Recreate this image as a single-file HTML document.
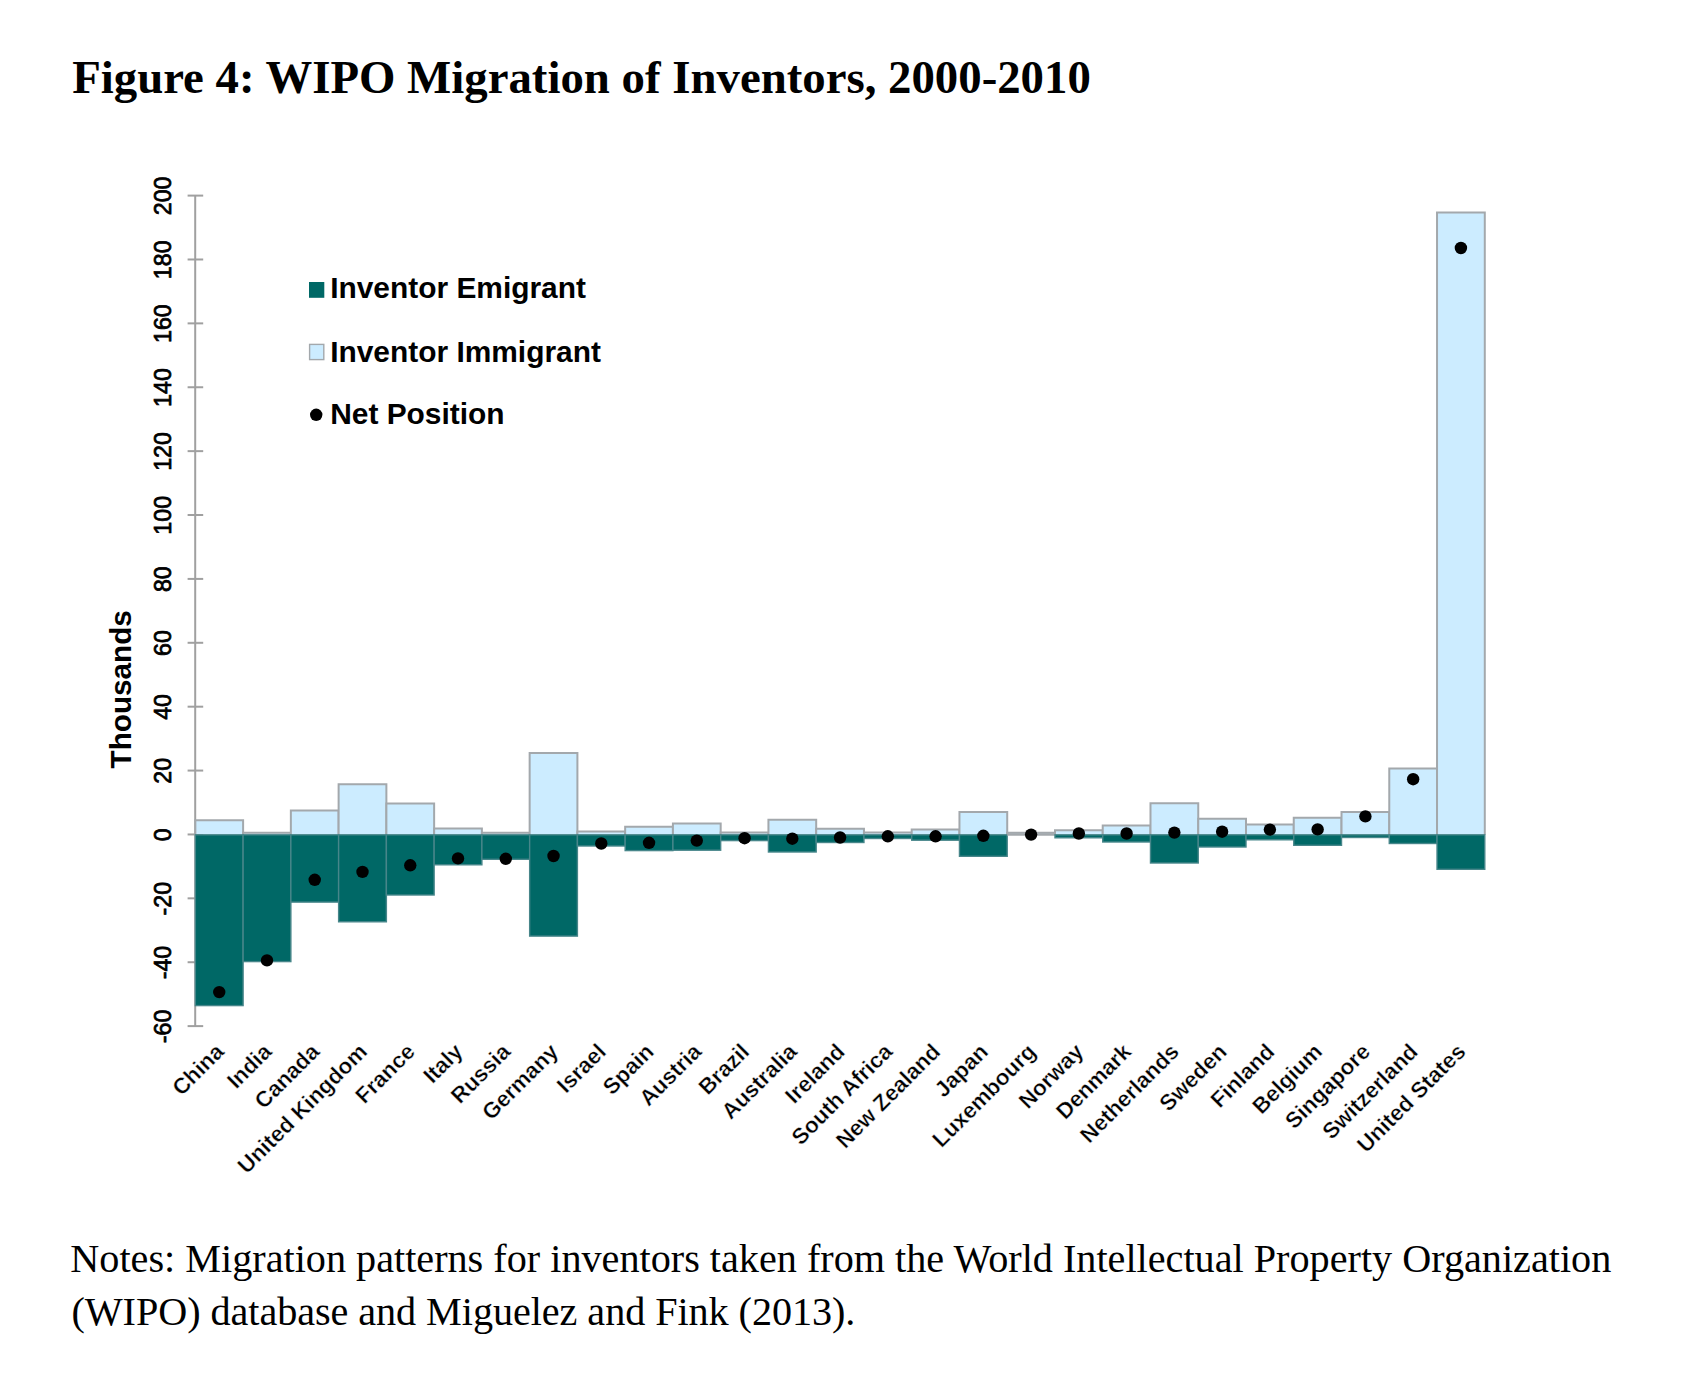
<!DOCTYPE html>
<html><head><meta charset="utf-8">
<style>
html,body{margin:0;padding:0;background:#fff;}
body{width:1683px;height:1398px;overflow:hidden;position:relative;}
svg{position:absolute;left:0;top:0;}
.title{font-family:"Liberation Serif",serif;font-weight:bold;font-size:46.8px;fill:#000;}
.notes{font-family:"Liberation Serif",serif;font-size:40.2px;fill:#000;}
.leg{font-family:"Liberation Sans",sans-serif;font-weight:bold;font-size:29.9px;fill:#000;}
.tick{font-family:"Liberation Sans",sans-serif;font-size:23.2px;fill:#000;stroke:#000;stroke-width:0.75px;}
.xl{font-family:"Liberation Sans",sans-serif;font-weight:bold;font-size:22.3px;fill:#000;stroke:#fff;stroke-width:0.35px;}
</style></head><body>
<svg width="1683" height="1398" viewBox="0 0 1683 1398">
<text x="72.2" y="92.9" class="title">Figure 4: WIPO Migration of Inventors, 2000-2010</text>
<line x1="195.2" y1="195.6" x2="195.2" y2="1026.1" stroke="#A0A0A0" stroke-width="2"/>
<line x1="187.6" y1="195.60" x2="203.2" y2="195.60" stroke="#A0A0A0" stroke-width="2"/>
<text transform="translate(170.9,195.90) rotate(-90)" text-anchor="middle" class="tick">200</text>
<line x1="187.6" y1="259.49" x2="203.2" y2="259.49" stroke="#A0A0A0" stroke-width="2"/>
<text transform="translate(170.9,259.79) rotate(-90)" text-anchor="middle" class="tick">180</text>
<line x1="187.6" y1="323.37" x2="203.2" y2="323.37" stroke="#A0A0A0" stroke-width="2"/>
<text transform="translate(170.9,323.67) rotate(-90)" text-anchor="middle" class="tick">160</text>
<line x1="187.6" y1="387.25" x2="203.2" y2="387.25" stroke="#A0A0A0" stroke-width="2"/>
<text transform="translate(170.9,387.56) rotate(-90)" text-anchor="middle" class="tick">140</text>
<line x1="187.6" y1="451.14" x2="203.2" y2="451.14" stroke="#A0A0A0" stroke-width="2"/>
<text transform="translate(170.9,451.44) rotate(-90)" text-anchor="middle" class="tick">120</text>
<line x1="187.6" y1="515.02" x2="203.2" y2="515.02" stroke="#A0A0A0" stroke-width="2"/>
<text transform="translate(170.9,515.32) rotate(-90)" text-anchor="middle" class="tick">100</text>
<line x1="187.6" y1="578.91" x2="203.2" y2="578.91" stroke="#A0A0A0" stroke-width="2"/>
<text transform="translate(170.9,579.21) rotate(-90)" text-anchor="middle" class="tick">80</text>
<line x1="187.6" y1="642.79" x2="203.2" y2="642.79" stroke="#A0A0A0" stroke-width="2"/>
<text transform="translate(170.9,643.09) rotate(-90)" text-anchor="middle" class="tick">60</text>
<line x1="187.6" y1="706.68" x2="203.2" y2="706.68" stroke="#A0A0A0" stroke-width="2"/>
<text transform="translate(170.9,706.98) rotate(-90)" text-anchor="middle" class="tick">40</text>
<line x1="187.6" y1="770.57" x2="203.2" y2="770.57" stroke="#A0A0A0" stroke-width="2"/>
<text transform="translate(170.9,770.87) rotate(-90)" text-anchor="middle" class="tick">20</text>
<line x1="187.6" y1="834.45" x2="203.2" y2="834.45" stroke="#A0A0A0" stroke-width="2"/>
<text transform="translate(170.9,834.75) rotate(-90)" text-anchor="middle" class="tick">0</text>
<line x1="187.6" y1="898.34" x2="203.2" y2="898.34" stroke="#A0A0A0" stroke-width="2"/>
<text transform="translate(170.9,898.63) rotate(-90)" text-anchor="middle" class="tick">-20</text>
<line x1="187.6" y1="962.22" x2="203.2" y2="962.22" stroke="#A0A0A0" stroke-width="2"/>
<text transform="translate(170.9,962.52) rotate(-90)" text-anchor="middle" class="tick">-40</text>
<line x1="187.6" y1="1026.11" x2="203.2" y2="1026.11" stroke="#A0A0A0" stroke-width="2"/>
<text transform="translate(170.9,1026.40) rotate(-90)" text-anchor="middle" class="tick">-60</text>
<rect x="195.35" y="820.30" width="47.76" height="13.90" fill="#CCECFF"/>
<path d="M195.35,834.80 V820.30 H243.11 V834.80" fill="none" stroke="#A3A8AC" stroke-width="2"/>
<rect x="243.11" y="832.70" width="47.76" height="1.50" fill="#CCECFF"/>
<path d="M243.11,834.80 V832.70 H290.86 V834.80" fill="none" stroke="#A3A8AC" stroke-width="2"/>
<rect x="290.86" y="810.40" width="47.76" height="23.80" fill="#CCECFF"/>
<path d="M290.86,834.80 V810.40 H338.62 V834.80" fill="none" stroke="#A3A8AC" stroke-width="2"/>
<rect x="338.62" y="784.20" width="47.76" height="50.00" fill="#CCECFF"/>
<path d="M338.62,834.80 V784.20 H386.38 V834.80" fill="none" stroke="#A3A8AC" stroke-width="2"/>
<rect x="386.38" y="803.50" width="47.76" height="30.70" fill="#CCECFF"/>
<path d="M386.38,834.80 V803.50 H434.13 V834.80" fill="none" stroke="#A3A8AC" stroke-width="2"/>
<rect x="434.13" y="828.40" width="47.76" height="5.80" fill="#CCECFF"/>
<path d="M434.13,834.80 V828.40 H481.89 V834.80" fill="none" stroke="#A3A8AC" stroke-width="2"/>
<rect x="481.89" y="832.70" width="47.76" height="1.50" fill="#CCECFF"/>
<path d="M481.89,834.80 V832.70 H529.65 V834.80" fill="none" stroke="#A3A8AC" stroke-width="2"/>
<rect x="529.65" y="753.10" width="47.76" height="81.10" fill="#CCECFF"/>
<path d="M529.65,834.80 V753.10 H577.41 V834.80" fill="none" stroke="#A3A8AC" stroke-width="2"/>
<rect x="577.41" y="831.40" width="47.76" height="2.80" fill="#CCECFF"/>
<path d="M577.41,834.80 V831.40 H625.16 V834.80" fill="none" stroke="#A3A8AC" stroke-width="2"/>
<rect x="625.16" y="826.80" width="47.76" height="7.40" fill="#CCECFF"/>
<path d="M625.16,834.80 V826.80 H672.92 V834.80" fill="none" stroke="#A3A8AC" stroke-width="2"/>
<rect x="672.92" y="823.50" width="47.76" height="10.70" fill="#CCECFF"/>
<path d="M672.92,834.80 V823.50 H720.68 V834.80" fill="none" stroke="#A3A8AC" stroke-width="2"/>
<rect x="720.68" y="832.40" width="47.76" height="1.80" fill="#CCECFF"/>
<path d="M720.68,834.80 V832.40 H768.43 V834.80" fill="none" stroke="#A3A8AC" stroke-width="2"/>
<rect x="768.43" y="819.70" width="47.76" height="14.50" fill="#CCECFF"/>
<path d="M768.43,834.80 V819.70 H816.19 V834.80" fill="none" stroke="#A3A8AC" stroke-width="2"/>
<rect x="816.19" y="828.80" width="47.76" height="5.40" fill="#CCECFF"/>
<path d="M816.19,834.80 V828.80 H863.95 V834.80" fill="none" stroke="#A3A8AC" stroke-width="2"/>
<rect x="863.95" y="832.40" width="47.76" height="1.80" fill="#CCECFF"/>
<path d="M863.95,834.80 V832.40 H911.70 V834.80" fill="none" stroke="#A3A8AC" stroke-width="2"/>
<rect x="911.71" y="829.60" width="47.76" height="4.60" fill="#CCECFF"/>
<path d="M911.71,834.80 V829.60 H959.46 V834.80" fill="none" stroke="#A3A8AC" stroke-width="2"/>
<rect x="959.46" y="812.10" width="47.76" height="22.10" fill="#CCECFF"/>
<path d="M959.46,834.80 V812.10 H1007.22 V834.80" fill="none" stroke="#A3A8AC" stroke-width="2"/>
<rect x="1007.22" y="832.80" width="47.76" height="1.40" fill="#CCECFF"/>
<path d="M1007.22,834.80 V832.80 H1054.98 V834.80" fill="none" stroke="#A3A8AC" stroke-width="2"/>
<rect x="1054.98" y="830.30" width="47.76" height="3.90" fill="#CCECFF"/>
<path d="M1054.98,834.80 V830.30 H1102.73 V834.80" fill="none" stroke="#A3A8AC" stroke-width="2"/>
<rect x="1102.73" y="825.60" width="47.76" height="8.60" fill="#CCECFF"/>
<path d="M1102.73,834.80 V825.60 H1150.49 V834.80" fill="none" stroke="#A3A8AC" stroke-width="2"/>
<rect x="1150.49" y="803.20" width="47.76" height="31.00" fill="#CCECFF"/>
<path d="M1150.49,834.80 V803.20 H1198.25 V834.80" fill="none" stroke="#A3A8AC" stroke-width="2"/>
<rect x="1198.25" y="818.70" width="47.76" height="15.50" fill="#CCECFF"/>
<path d="M1198.25,834.80 V818.70 H1246.00 V834.80" fill="none" stroke="#A3A8AC" stroke-width="2"/>
<rect x="1246.00" y="824.40" width="47.76" height="9.80" fill="#CCECFF"/>
<path d="M1246.00,834.80 V824.40 H1293.76 V834.80" fill="none" stroke="#A3A8AC" stroke-width="2"/>
<rect x="1293.76" y="817.70" width="47.76" height="16.50" fill="#CCECFF"/>
<path d="M1293.76,834.80 V817.70 H1341.52 V834.80" fill="none" stroke="#A3A8AC" stroke-width="2"/>
<rect x="1341.52" y="812.00" width="47.76" height="22.20" fill="#CCECFF"/>
<path d="M1341.52,834.80 V812.00 H1389.27 V834.80" fill="none" stroke="#A3A8AC" stroke-width="2"/>
<rect x="1389.27" y="768.40" width="47.76" height="65.80" fill="#CCECFF"/>
<path d="M1389.27,834.80 V768.40 H1437.03 V834.80" fill="none" stroke="#A3A8AC" stroke-width="2"/>
<rect x="1437.03" y="212.50" width="47.76" height="621.70" fill="#CCECFF"/>
<path d="M1437.03,834.80 V212.50 H1484.79 V834.80" fill="none" stroke="#A3A8AC" stroke-width="2"/>
<rect x="195.35" y="834.80" width="47.76" height="170.80" fill="#006866" stroke="#47868a" stroke-width="1.4"/>
<rect x="243.11" y="834.80" width="47.76" height="126.80" fill="#006866" stroke="#47868a" stroke-width="1.4"/>
<rect x="290.86" y="834.80" width="47.76" height="67.30" fill="#006866" stroke="#47868a" stroke-width="1.4"/>
<rect x="338.62" y="834.80" width="47.76" height="87.00" fill="#006866" stroke="#47868a" stroke-width="1.4"/>
<rect x="386.38" y="834.80" width="47.76" height="60.20" fill="#006866" stroke="#47868a" stroke-width="1.4"/>
<rect x="434.13" y="834.80" width="47.76" height="30.00" fill="#006866" stroke="#47868a" stroke-width="1.4"/>
<rect x="481.89" y="834.80" width="47.76" height="24.50" fill="#006866" stroke="#47868a" stroke-width="1.4"/>
<rect x="529.65" y="834.80" width="47.76" height="101.30" fill="#006866" stroke="#47868a" stroke-width="1.4"/>
<rect x="577.41" y="834.80" width="47.76" height="11.20" fill="#006866" stroke="#47868a" stroke-width="1.4"/>
<rect x="625.16" y="834.80" width="47.76" height="15.80" fill="#006866" stroke="#47868a" stroke-width="1.4"/>
<rect x="672.92" y="834.80" width="47.76" height="15.40" fill="#006866" stroke="#47868a" stroke-width="1.4"/>
<rect x="720.68" y="834.80" width="47.76" height="5.80" fill="#006866" stroke="#47868a" stroke-width="1.4"/>
<rect x="768.43" y="834.80" width="47.76" height="17.20" fill="#006866" stroke="#47868a" stroke-width="1.4"/>
<rect x="816.19" y="834.80" width="47.76" height="7.70" fill="#006866" stroke="#47868a" stroke-width="1.4"/>
<rect x="863.95" y="834.80" width="47.76" height="3.70" fill="#006866" stroke="#47868a" stroke-width="1.4"/>
<rect x="911.71" y="834.80" width="47.76" height="5.40" fill="#006866" stroke="#47868a" stroke-width="1.4"/>
<rect x="959.46" y="834.80" width="47.76" height="21.50" fill="#006866" stroke="#47868a" stroke-width="1.4"/>
<line x1="1007.22" y1="834.50" x2="1054.98" y2="834.50" stroke="#A3A8AC" stroke-width="2.5"/>
<rect x="1054.98" y="834.80" width="47.76" height="3.00" fill="#006866" stroke="#47868a" stroke-width="1.4"/>
<rect x="1102.73" y="834.80" width="47.76" height="7.20" fill="#006866" stroke="#47868a" stroke-width="1.4"/>
<rect x="1150.49" y="834.80" width="47.76" height="28.20" fill="#006866" stroke="#47868a" stroke-width="1.4"/>
<rect x="1198.25" y="834.80" width="47.76" height="12.20" fill="#006866" stroke="#47868a" stroke-width="1.4"/>
<rect x="1246.00" y="834.80" width="47.76" height="5.00" fill="#006866" stroke="#47868a" stroke-width="1.4"/>
<rect x="1293.76" y="834.80" width="47.76" height="10.50" fill="#006866" stroke="#47868a" stroke-width="1.4"/>
<rect x="1341.52" y="834.80" width="47.76" height="2.70" fill="#006866" stroke="#47868a" stroke-width="1.4"/>
<rect x="1389.27" y="834.80" width="47.76" height="8.70" fill="#006866" stroke="#47868a" stroke-width="1.4"/>
<rect x="1437.03" y="834.80" width="47.76" height="34.50" fill="#006866" stroke="#47868a" stroke-width="1.4"/>
<circle cx="219.23" cy="992.10" r="6.2" fill="#000"/>
<circle cx="266.99" cy="960.40" r="6.2" fill="#000"/>
<circle cx="314.74" cy="879.80" r="6.2" fill="#000"/>
<circle cx="362.50" cy="871.90" r="6.2" fill="#000"/>
<circle cx="410.26" cy="865.30" r="6.2" fill="#000"/>
<circle cx="458.01" cy="858.40" r="6.2" fill="#000"/>
<circle cx="505.77" cy="858.80" r="6.2" fill="#000"/>
<circle cx="553.53" cy="856.00" r="6.2" fill="#000"/>
<circle cx="601.28" cy="843.50" r="6.2" fill="#000"/>
<circle cx="649.04" cy="842.80" r="6.2" fill="#000"/>
<circle cx="696.80" cy="840.60" r="6.2" fill="#000"/>
<circle cx="744.56" cy="838.20" r="6.2" fill="#000"/>
<circle cx="792.31" cy="838.70" r="6.2" fill="#000"/>
<circle cx="840.07" cy="837.50" r="6.2" fill="#000"/>
<circle cx="887.83" cy="836.30" r="6.2" fill="#000"/>
<circle cx="935.58" cy="836.30" r="6.2" fill="#000"/>
<circle cx="983.34" cy="835.80" r="6.2" fill="#000"/>
<circle cx="1031.10" cy="834.60" r="6.2" fill="#000"/>
<circle cx="1078.85" cy="833.50" r="6.2" fill="#000"/>
<circle cx="1126.61" cy="833.50" r="6.2" fill="#000"/>
<circle cx="1174.37" cy="832.60" r="6.2" fill="#000"/>
<circle cx="1222.13" cy="831.70" r="6.2" fill="#000"/>
<circle cx="1269.88" cy="829.60" r="6.2" fill="#000"/>
<circle cx="1317.64" cy="829.40" r="6.2" fill="#000"/>
<circle cx="1365.40" cy="816.40" r="6.2" fill="#000"/>
<circle cx="1413.15" cy="779.20" r="6.2" fill="#000"/>
<circle cx="1460.91" cy="248.00" r="6.2" fill="#000"/>
<text transform="translate(225.23,1053) rotate(-45)" text-anchor="end" class="xl">China</text>
<text transform="translate(272.99,1053) rotate(-45)" text-anchor="end" class="xl">India</text>
<text transform="translate(320.74,1053) rotate(-45)" text-anchor="end" class="xl">Canada</text>
<text transform="translate(368.50,1053) rotate(-45)" text-anchor="end" class="xl">United Kingdom</text>
<text transform="translate(416.26,1053) rotate(-45)" text-anchor="end" class="xl">France</text>
<text transform="translate(464.01,1053) rotate(-45)" text-anchor="end" class="xl">Italy</text>
<text transform="translate(511.77,1053) rotate(-45)" text-anchor="end" class="xl">Russia</text>
<text transform="translate(559.53,1053) rotate(-45)" text-anchor="end" class="xl">Germany</text>
<text transform="translate(607.28,1053) rotate(-45)" text-anchor="end" class="xl">Israel</text>
<text transform="translate(655.04,1053) rotate(-45)" text-anchor="end" class="xl">Spain</text>
<text transform="translate(702.80,1053) rotate(-45)" text-anchor="end" class="xl">Austria</text>
<text transform="translate(750.56,1053) rotate(-45)" text-anchor="end" class="xl">Brazil</text>
<text transform="translate(798.31,1053) rotate(-45)" text-anchor="end" class="xl">Australia</text>
<text transform="translate(846.07,1053) rotate(-45)" text-anchor="end" class="xl">Ireland</text>
<text transform="translate(893.83,1053) rotate(-45)" text-anchor="end" class="xl">South Africa</text>
<text transform="translate(941.58,1053) rotate(-45)" text-anchor="end" class="xl">New Zealand</text>
<text transform="translate(989.34,1053) rotate(-45)" text-anchor="end" class="xl">Japan</text>
<text transform="translate(1037.10,1053) rotate(-45)" text-anchor="end" class="xl">Luxembourg</text>
<text transform="translate(1084.85,1053) rotate(-45)" text-anchor="end" class="xl">Norway</text>
<text transform="translate(1132.61,1053) rotate(-45)" text-anchor="end" class="xl">Denmark</text>
<text transform="translate(1180.37,1053) rotate(-45)" text-anchor="end" class="xl">Netherlands</text>
<text transform="translate(1228.13,1053) rotate(-45)" text-anchor="end" class="xl">Sweden</text>
<text transform="translate(1275.88,1053) rotate(-45)" text-anchor="end" class="xl">Finland</text>
<text transform="translate(1323.64,1053) rotate(-45)" text-anchor="end" class="xl">Belgium</text>
<text transform="translate(1371.40,1053) rotate(-45)" text-anchor="end" class="xl">Singapore</text>
<text transform="translate(1419.15,1053) rotate(-45)" text-anchor="end" class="xl">Switzerland</text>
<text transform="translate(1466.91,1053) rotate(-45)" text-anchor="end" class="xl">United States</text>
<rect x="309" y="282" width="15.3" height="15.8" fill="#006866"/>
<text x="330.2" y="298.2" class="leg">Inventor Emigrant</text>
<rect x="309.6" y="344.4" width="14.2" height="15.2" fill="#CCECFF" stroke="#A3A8AC" stroke-width="1.4"/>
<text x="330.2" y="361.7" class="leg">Inventor Immigrant</text>
<circle cx="316.2" cy="414.8" r="6.2" fill="#000"/>
<text x="330.2" y="423.9" class="leg">Net Position</text>
<text transform="translate(130.7,689.3) rotate(-90)" text-anchor="middle" class="leg" style="font-size:29.7px">Thousands</text>
<text x="70.3" y="1271.8" class="notes">Notes: Migration patterns for inventors taken from the World Intellectual Property Organization</text>
<text x="71.4" y="1325.4" class="notes" textLength="784" lengthAdjust="spacing">(WIPO) database and Miguelez and Fink (2013).</text>
</svg>
</body></html>
